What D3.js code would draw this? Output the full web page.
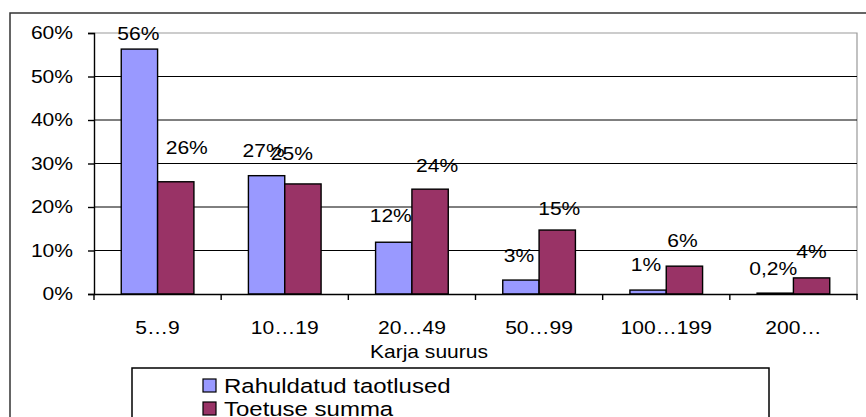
<!DOCTYPE html>
<html>
<head>
<meta charset="utf-8">
<script src="https://cdn.jsdelivr.net/npm/d3@7"></script>
<style>
  body { margin: 0; background: #fff; }
  svg text {
    font-family: "Liberation Sans", Arial, sans-serif;
    fill: #000;
    transform-box: fill-box;
    transform-origin: center;
    transform: scaleX(1.17);
  }
  .y-axis text { transform-origin: right center; }
  .legend text { transform-origin: left center; }
</style>
</head>
<body>
<svg id="chart"></svg>
<script>
// data
const categories = ["5…9", "10…19", "20…49", "50…99", "100…199", "200…"];
const seriesNames = ["Rahuldatud taotlused", "Toetuse summa"];
const approved = [56.3, 27.2, 11.9, 3.2, 0.9, 0.2];
const amount = [25.8, 25.3, 24.1, 14.7, 6.4, 3.7];
const yTicks = [0, 10, 20, 30, 40, 50, 60];
const colors = ["#9999ff", "#993366"];

// hand-moved data labels in the original (dx, dy)
const labelNudge = [
  [[-1, 9], [-3, 0], [-3, -2], [-2, 0], [-2, -1], [-2, 0]],
  [[11, -9], [-11, -5], [7, 1], [2, 3], [-2, -1], [0, -1]]
];

const W = 866, H = 417;
const plot = { left: 94, right: 857, top: 33, bottom: 294 };

const svg = d3.select("#chart").attr("width", W).attr("height", H);

// outer chart border
svg.append("rect")
  .attr("x", 10).attr("y", 13)
  .attr("width", 880).attr("height", 440)
  .attr("fill", "none").attr("stroke", "#333").attr("stroke-width", 1.5);

const x0 = d3.scaleBand().domain(categories).range([plot.left, plot.right]).padding(0);
const x1 = d3.scaleBand().domain([0, 1]).range([0, x0.bandwidth()])
  .paddingInner(0).paddingOuter(0.75);
const y = d3.scaleLinear().domain([0, 60]).range([plot.bottom, plot.top]);

// plot area border (grey)
svg.append("path")
  .attr("d", `M${plot.left},${plot.top}H${plot.right}V${plot.bottom}`)
  .attr("fill", "none").attr("stroke", "#999").attr("stroke-width", 1.2);

// gridlines
svg.append("g").selectAll("line")
  .data(yTicks.filter(d => d > 0 && d < 60))
  .enter().append("line")
  .attr("x1", plot.left).attr("x2", plot.right)
  .attr("y1", d => y(d)).attr("y2", d => y(d))
  .attr("stroke", "#000").attr("stroke-width", 1);

// bars
const series = [approved, amount];
series.forEach((vals, s) => {
  svg.append("g").selectAll("rect")
    .data(vals)
    .enter().append("rect")
    .attr("x", (d, i) => x0(categories[i]) + x1(s))
    .attr("y", d => y(d))
    .attr("width", x1.bandwidth())
    .attr("height", d => y(0) - y(d))
    .attr("fill", colors[s])
    .attr("stroke", "#000").attr("stroke-width", 1.4);
});

// y axis
const yAxis = svg.append("g")
  .attr("class", "y-axis")
  .attr("transform", `translate(${plot.left},0)`)
  .call(d3.axisLeft(y).tickValues(yTicks).tickFormat(d => d + "%").tickSize(6).tickPadding(15));
yAxis.select(".domain").attr("stroke", "#000").attr("stroke-width", 1.4);
yAxis.selectAll(".tick line").attr("stroke", "#000").attr("stroke-width", 1.4);
yAxis.selectAll("text").style("font-size", "18px");

// x axis labels
const xAxis = svg.append("g")
  .attr("transform", `translate(0,${plot.bottom})`)
  .call(d3.axisBottom(x0).tickSize(0).tickPadding(27));
xAxis.select(".domain").attr("stroke", "#000").attr("stroke-width", 1.4);
xAxis.selectAll("text").style("font-size", "18px");

// category boundary ticks
const bounds = categories.map(c => x0(c)).concat([plot.right]);
svg.append("g").selectAll("line")
  .data(bounds)
  .enter().append("line")
  .attr("x1", d => d).attr("x2", d => d)
  .attr("y1", plot.bottom).attr("y2", plot.bottom + 6)
  .attr("stroke", "#000").attr("stroke-width", 1.4);

svg.append("text")
  .attr("x", 429)
  .attr("y", 358)
  .attr("text-anchor", "middle")
  .style("font-size", "18px")
  .text("Karja suurus");

// data labels
const fmt = v => v < 0.5 ? d3.format(".1f")(v).replace(".", ",") + "%" : Math.round(v) + "%";
series.forEach((vals, s) => {
  svg.append("g").selectAll("text")
    .data(vals)
    .enter().append("text")
    .attr("x", (d, i) => x0(categories[i]) + x1(s) + x1.bandwidth() / 2 + labelNudge[s][i][0])
    .attr("y", (d, i) => y(d) - 18.5 + labelNudge[s][i][1])
    .attr("text-anchor", "middle")
    .style("font-size", "18px")
    .text(d => fmt(d));
});

// legend
const legend = svg.append("g").attr("class", "legend");
legend.append("rect")
  .attr("x", 132).attr("y", 368)
  .attr("width", 637).attr("height", 80)
  .attr("fill", "#fff").attr("stroke", "#000").attr("stroke-width", 1.5);
const items = legend.selectAll(".item")
  .data(seriesNames)
  .enter().append("g")
  .attr("transform", (d, i) => `translate(203,${379 + i * 23})`);
items.append("rect")
  .attr("width", 13).attr("height", 13)
  .attr("fill", (d, i) => colors[i])
  .attr("stroke", "#000").attr("stroke-width", 1.2);
items.append("text")
  .attr("x", 21).attr("y", 14)
  .style("font-size", "20.5px")
  .text(d => d);
</script>
</body>
</html>
